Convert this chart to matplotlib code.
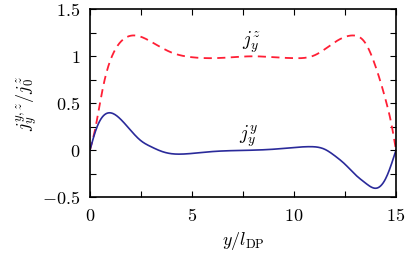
import numpy as np
import matplotlib
matplotlib.use("Agg")
import matplotlib.pyplot as plt
from matplotlib.ticker import MultipleLocator

plt.rcParams['mathtext.fontset'] = 'cm'
plt.rcParams['font.family'] = ['DejaVu Serif']

# data
x_z = [0, 0.24, 0.65, 1.14, 1.63, 2.1, 3, 4, 5, 6, 7, 8, 9, 10, 11, 12, 12.9, 13.5, 14, 14.5, 14.8, 15]
jz = [0, 0.21, 0.68, 1.03, 1.18, 1.222, 1.155, 1.04, 0.99, 0.98, 0.99, 1.0, 0.99, 0.98, 1.01, 1.15, 1.222, 1.14, 0.89, 0.53, 0.25, 0]

x_y = [0, 0.3, 0.95, 1.5, 2, 2.5, 3, 3.5, 4, 4.5, 5, 6, 7, 8, 9, 10, 10.8, 11.5, 12, 12.5, 13, 13.5, 14.05, 14.5, 15]
jy = [0, 0.22, 0.398, 0.33, 0.21, 0.10, 0.036, -0.012, -0.038, -0.042, -0.035, -0.015, -0.005, 0.0, 0.01, 0.028, 0.037, 0.01, -0.06, -0.15, -0.26, -0.35, -0.405, -0.3, 0]

xticks = [0, 5, 10, 15]
xticklabels = ['$0$', '$5$', '$10$', '$15$']
yticks = [-0.5, 0, 0.5, 1, 1.5]
yticklabels = ['$-0.5$', '$0$', '$0.5$', '$1$', '$1.5$']


def spline(xs, ys, n=500):
    """Natural cubic spline through the read points."""
    xs = np.asarray(xs, float)
    ys = np.asarray(ys, float)
    N = len(xs)
    h = np.diff(xs)
    A = np.zeros((N, N))
    b = np.zeros(N)
    A[0, 0] = 1
    A[-1, -1] = 1
    for i in range(1, N - 1):
        A[i, i - 1] = h[i - 1]
        A[i, i] = 2 * (h[i - 1] + h[i])
        A[i, i + 1] = h[i]
        b[i] = 3 * ((ys[i + 1] - ys[i]) / h[i] - (ys[i] - ys[i - 1]) / h[i - 1])
    c = np.linalg.solve(A, b)
    bb = (ys[1:] - ys[:-1]) / h - h * (2 * c[:-1] + c[1:]) / 3
    d = (c[1:] - c[:-1]) / (3 * h)
    xx = np.linspace(xs[0], xs[-1], n)
    idx = np.clip(np.searchsorted(xs, xx) - 1, 0, N - 2)
    dx = xx - xs[idx]
    yy = ys[idx] + bb[idx] * dx + c[idx] * dx**2 + d[idx] * dx**3
    return xx, yy


fig = plt.figure(figsize=(4.07, 2.60), dpi=100)
ax = fig.add_axes([0.221, 0.242, 0.752, 0.722])

xx, yy = spline(x_z, jz)
ax.plot(xx, yy, color='#ff1f35', lw=1.3, dashes=(4.5, 3))
xx, yy = spline(x_y, jy)
ax.plot(xx, yy, color='#2a2a9a', lw=1.2)

ax.text(7.9, 1.14, r'$j_y^z$', fontsize=14, ha='center', va='center')
ax.text(7.8, 0.14, r'$j_y^y$', fontsize=14, ha='center', va='center')

ax.set_xlim(0, 15)
ax.set_ylim(-0.5, 1.5)
ax.set_xticks(xticks)
ax.set_xticklabels(xticklabels)
ax.set_yticks(yticks)
ax.set_yticklabels(yticklabels)
ax.xaxis.set_minor_locator(MultipleLocator(2.5))
ax.yaxis.set_minor_locator(MultipleLocator(0.25))
ax.tick_params(which='both', direction='in', top=True, right=True, labelsize=13, width=0.8)
ax.tick_params(which='major', length=4, pad=7)
ax.tick_params(which='minor', length=4)
for s in ax.spines.values():
    s.set_linewidth(1.2)

ax.set_xlabel(r'$y/l_{\rm DP}$', fontsize=13, labelpad=4)
ax.set_ylabel(r'$j_y^{y,z}/j_0^z$', fontsize=13, labelpad=2)

fig.savefig('out.png', dpi=100)
